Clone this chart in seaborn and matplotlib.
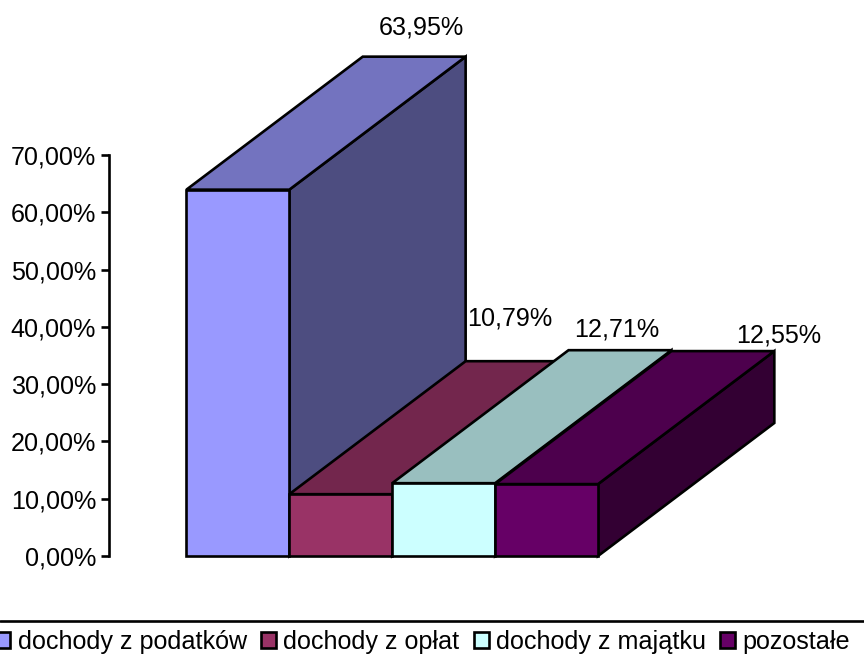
import matplotlib
matplotlib.use("Agg")
import matplotlib.pyplot as plt
import seaborn as sns
from matplotlib.colors import to_rgb
from matplotlib.lines import Line2D
from matplotlib.patches import Polygon
from matplotlib.ticker import FuncFormatter

categories = ["dochody z podatków", "dochody z opłat", "dochody z majątku", "pozostałe"]
values = [63.95, 10.79, 12.71, 12.55]
colors = ["#9999FF", "#993366", "#CCFFFF", "#660066"]
yticks = [0, 10, 20, 30, 40, 50, 60, 70]

W, H = 864, 662
sns.set_style("white")
plt.rcParams["font.family"] = ["Liberation Sans", "DejaVu Sans"]
FS = 25.1 * 72 / 100
LW = 1.9

fig = plt.figure(figsize=(W / 100, H / 100), dpi=100)
ax = fig.add_axes([109 / W, (H - 556) / H, (598 - 109) / W, 401 / H])

sns.barplot(x=categories, y=values, hue=categories, palette=colors, width=1,
            edgecolor="black", linewidth=LW, legend=False, saturation=1,
            zorder=5, ax=ax)

BAR_PX = 103
ax.set_xlim(-0.5 - (186.5 - 109) / BAR_PX, 3.5)
ax.set_ylim(0, 70)

# Pseudo-3D depth, in data units
depth_x = 176.5 / BAR_PX
depth_y = 133 / (401 / 70)
TOP_SHADE, SIDE_SHADE = 0.75, 0.5

bars = list(ax.patches)
for bar in bars:
    bar.set_clip_on(False)
for i, (bar, col) in enumerate(zip(bars, colors)):
    x0, x1 = bar.get_x(), bar.get_x() + bar.get_width()
    h = bar.get_height()
    rgb = to_rgb(col)
    side = Polygon([(x1, 0), (x1 + depth_x, depth_y), (x1 + depth_x, h + depth_y), (x1, h)],
                   closed=True, fc=[c * SIDE_SHADE for c in rgb], ec="black", lw=LW,
                   clip_on=False, zorder=1 + i * 0.1)
    top = Polygon([(x0, h), (x1, h), (x1 + depth_x, h + depth_y), (x0 + depth_x, h + depth_y)],
                  closed=True, fc=[c * TOP_SHADE for c in rgb], ec="black", lw=LW,
                  clip_on=False, zorder=1.05 + i * 0.1)
    ax.add_patch(side)
    ax.add_patch(top)

# Data labels, nudged off the back top edge of each block (offsets in points)
label_offsets = [(5, 21), (-5, 31), (-2, 15), (40, 11)]
for bar, v, off in zip(bars, values, label_offsets):
    ax.annotate(f"{v:.2f}%".replace(".", ","),
                xy=(bar.get_x() + bar.get_width() / 2 + depth_x, v + depth_y),
                xytext=off, textcoords="offset points", annotation_clip=False,
                ha="center", va="center", fontsize=FS, color="black", zorder=6)

# Axes styling
sns.despine(ax=ax, top=True, right=True, bottom=True)
ax.spines["left"].set_linewidth(LW)
ax.spines["left"].set_color("black")
ax.set_xticks([])
ax.set_yticks(yticks)
ax.yaxis.set_major_formatter(FuncFormatter(lambda v, _: f"{v:.2f}%".replace(".", ",")))
ax.tick_params(axis="y", left=True, length=5.8, width=LW, color="black", pad=3.5,
               labelsize=FS, labelcolor="black")
ax.patch.set_alpha(0)

# Legend band
fig.add_artist(Line2D([0, 1], [(H - 621) / H] * 2, color="black", lw=LW,
                      transform=fig.transFigure))
handles = [plt.Rectangle((0, 0), 1, 1, fc=c, ec="black", lw=LW) for c in colors]
fig.legend(handles, categories, loc="center left",
           bbox_to_anchor=(-5 / W, (H - 642) / H), ncol=4, frameon=False,
           fontsize=FS, labelcolor="black", handlelength=0.6, handleheight=0.6,
           handletextpad=0.3, columnspacing=0.56, borderpad=0, borderaxespad=0,
           labelspacing=0)

fig.savefig("out.png", dpi=100, facecolor="white")
